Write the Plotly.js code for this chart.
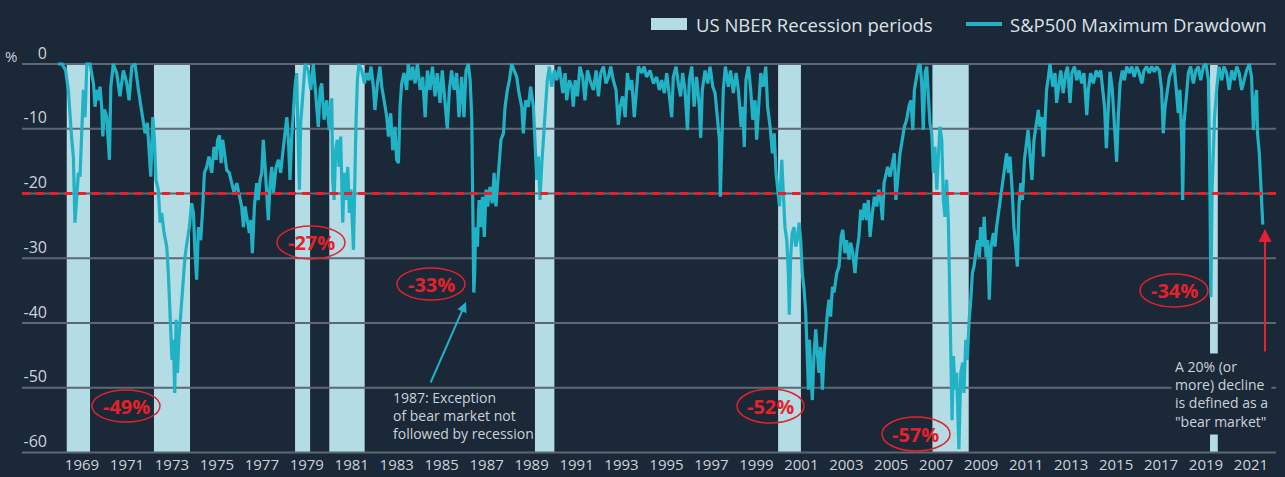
<!DOCTYPE html>
<html>
<head>
<meta charset="utf-8">
<script src="https://cdn.plot.ly/plotly-3.0.1.min.js"></script>
<style>
html,body{margin:0;padding:0;background:#1a2838;}
#chart{width:1285px;height:477px;}
</style>
</head>
<body>
<div id="chart"></div>
<script>
// ---------------- DATA ----------------
// S&P500 maximum drawdown (%), [decimal year, drawdown]
const drawdown1969_1981 = [[1969.62,0],[1969.80,0],[1969.95,-1],[1970.07,-4],[1970.22,-11.7],[1970.29,-14.3],[1970.36,-24.5],[1970.44,-20.5],[1970.51,-16.8],[1970.58,-17.4],[1970.66,-10.6],[1970.73,-4],[1970.80,-8.2],[1970.88,0],[1971.02,0],[1971.17,-3],[1971.24,-6.6],[1971.31,-4],[1971.39,-5.6],[1971.46,-3.5],[1971.53,-6.6],[1971.58,-11.2],[1971.65,-7],[1971.75,-8.2],[1971.87,-14.8],[1971.93,-3.5],[1972.04,0],[1972.19,-1.4],[1972.33,-5],[1972.48,-1],[1972.63,-3],[1972.73,-5.6],[1972.85,-0.4],[1972.99,0],[1973.14,-4],[1973.28,-7.6],[1973.43,-10.7],[1973.53,-9.1],[1973.62,-14.3],[1973.68,-17.4],[1973.77,-8.2],[1973.84,-11.7],[1973.91,-17.9],[1974.01,-19.4],[1974.09,-24.5],[1974.16,-23],[1974.26,-26],[1974.38,-28.2],[1974.45,-32.3],[1974.55,-40],[1974.61,-45.7],[1974.67,-42.6],[1974.73,-50.8],[1974.79,-39.5],[1974.85,-47.7],[1974.91,-42.6],[1974.99,-38.4],[1975.08,-34.4],[1975.18,-29.8],[1975.28,-27.2],[1975.37,-25.2],[1975.47,-21.5],[1975.55,-23],[1975.62,-29.2],[1975.69,-33.3],[1975.77,-25.2],[1975.87,-27.2],[1975.96,-22],[1976.03,-16.8],[1976.13,-15.9],[1976.23,-14.3],[1976.35,-16.8],[1976.45,-12.8],[1976.54,-14.8],[1976.61,-11.7],[1976.69,-11],[1976.76,-15.3],[1976.83,-11.7],[1976.93,-14.8],[1977.01,-16.4],[1977.12,-16.8],[1977.23,-18.4],[1977.33,-19.9],[1977.45,-18.4],[1977.56,-20.5],[1977.66,-22],[1977.74,-25.2],[1977.81,-22],[1977.88,-23.6],[1978.00,-26.1],[1978.07,-24.1],[1978.13,-29.2],[1978.22,-22],[1978.32,-18.4],[1978.39,-21],[1978.47,-17.9],[1978.54,-16.8],[1978.61,-11.7],[1978.69,-15.9],[1978.76,-19.9],[1978.83,-24.1],[1978.90,-19],[1978.98,-15.9],[1979.05,-19.9],[1979.17,-15.9],[1979.27,-14.8],[1979.37,-16.8],[1979.46,-13.8],[1979.56,-10.2],[1979.64,-8.2],[1979.71,-11.7],[1979.78,-17.9],[1979.85,-11.7],[1979.93,-6.6],[1980.00,-3.5],[1980.07,-1.4],[1980.15,-11.7],[1980.19,-19.4],[1980.25,-9.1],[1980.34,-4],[1980.44,0],[1980.58,-1],[1980.69,-4],[1980.80,0],[1980.92,-5],[1981.02,-9.7]];
const drawdown1981_1991 = [[1981.10,-4],[1981.17,-3],[1981.27,-8.6],[1981.39,-5.6],[1981.50,-10.2],[1981.61,-5.3],[1981.65,-17.9],[1981.71,-21],[1981.78,-13.3],[1981.85,-11.7],[1981.93,-15.9],[1982.00,-11.2],[1982.09,-24.5],[1982.16,-16.8],[1982.23,-21],[1982.31,-15.9],[1982.38,-23],[1982.45,-19.4],[1982.56,-28.7],[1982.61,-16.8],[1982.67,-9.1],[1982.73,-2.5],[1982.80,0],[1982.92,-1],[1983.04,-3],[1983.14,-1.4],[1983.24,-2.5],[1983.33,-0.4],[1983.43,-3.5],[1983.50,-7.1],[1983.61,-3],[1983.72,-0.4],[1983.80,-3.5],[1983.90,-5.6],[1984.02,-8.2],[1984.09,-11.2],[1984.19,-7.6],[1984.28,-13.3],[1984.38,-9.7],[1984.45,-14.8],[1984.53,-15.3],[1984.60,-6.6],[1984.67,-3],[1984.77,-1.4],[1984.89,-4],[1984.96,0],[1985.07,-2.5],[1985.15,-0.4],[1985.26,-3],[1985.36,0],[1985.48,-4],[1985.59,-2],[1985.70,-8.2],[1985.80,-1],[1985.91,-4],[1986.02,-0.4],[1986.13,-5],[1986.23,-1.4],[1986.35,-6],[1986.45,-1],[1986.57,-5.6],[1986.67,-10],[1986.76,-4],[1986.86,-1],[1986.97,-4],[1987.08,-1.4],[1987.18,-8.2],[1987.30,-2],[1987.40,-8.2],[1987.49,-1],[1987.59,0],[1987.67,-2.5],[1987.74,-8.2],[1987.78,-27.2],[1987.83,-35.3],[1987.87,-32.3],[1987.91,-25.2],[1987.99,-28.2],[1988.06,-21],[1988.13,-25.2],[1988.21,-20.5],[1988.29,-26.7],[1988.37,-19.4],[1988.44,-22],[1988.54,-19],[1988.64,-21.5],[1988.72,-16.8],[1988.80,-22],[1988.88,-17.9],[1988.95,-15.9],[1989.02,-11.7],[1989.13,-10.7],[1989.20,-6.6],[1989.30,-4],[1989.39,-2.5],[1989.49,0],[1989.59,-1],[1989.71,-2],[1989.81,-4.5],[1989.93,-6.6],[1990.00,-10.7],[1990.10,-5.6],[1990.22,-6.6],[1990.32,-3.5],[1990.44,-6.6],[1990.51,-13.3],[1990.59,-17.9],[1990.66,-14.3],[1990.73,-21],[1990.80,-15.9],[1990.88,-11.7],[1990.95,-6.6],[1991.05,-2.5],[1991.14,-0.4],[1991.24,-3.5],[1991.36,-1],[1991.46,-2.5],[1991.58,-0.4]];
const drawdown1991_2001 = [[1991.73,-4.5],[1991.83,-1.4],[1991.90,-5.6],[1992.02,-2.5],[1992.12,-3.5],[1992.19,-6.6],[1992.27,-2.5],[1992.37,-5],[1992.48,-0.4],[1992.60,-2],[1992.70,-5.6],[1992.81,-1],[1992.92,-2.5],[1993.07,-4],[1993.19,-1],[1993.29,-5],[1993.39,-1.4],[1993.51,-0.4],[1993.62,-3],[1993.73,-2],[1993.83,-0.4],[1993.94,-2.5],[1994.06,-4],[1994.16,-9.4],[1994.24,-6.6],[1994.35,-5],[1994.46,-8.2],[1994.56,-1.4],[1994.65,-4],[1994.75,-2.5],[1994.86,-8.2],[1994.97,-3.5],[1995.04,-0.4],[1995.19,-1.4],[1995.29,-0.4],[1995.40,-2],[1995.55,-1],[1995.70,-3],[1995.84,-2],[1995.96,-4],[1996.06,-2.5],[1996.18,-4.5],[1996.28,-1.4],[1996.40,-5],[1996.50,-8.2],[1996.57,-2],[1996.69,-0.4],[1996.79,-3],[1996.89,-5],[1996.98,-1.4],[1997.08,-4],[1997.19,-10.2],[1997.27,-2.5],[1997.38,-0.4],[1997.48,-6.6],[1997.59,-2],[1997.71,-6.6],[1997.77,-11.4],[1997.84,-4],[1997.96,-1],[1998.08,-3],[1998.18,-0.4],[1998.30,-3.5],[1998.40,-4.5],[1998.50,-8.6],[1998.59,-11.7],[1998.63,-20.5],[1998.69,-11.7],[1998.76,-4],[1998.85,-0.4],[1998.98,-3.5],[1999.08,-1],[1999.20,-4.5],[1999.32,-1.4],[1999.42,-4],[1999.54,-9.7],[1999.61,-6.6],[1999.68,-12.8],[1999.75,-2.5],[1999.86,-0.4],[1999.96,-4],[2000.05,-8.6],[2000.15,-5.6],[2000.22,-11.7],[2000.32,-6.6],[2000.40,-1.4],[2000.51,-3.5],[2000.62,-0.4],[2000.70,-6.6],[2000.81,-9.7],[2000.91,-13.8],[2000.99,-10.7],[2001.07,-16.8],[2001.14,-19.9],[2001.22,-22]];
const drawdown2001_2010 = [[2001.32,-14.8],[2001.39,-21],[2001.46,-25.2],[2001.54,-27.2],[2001.61,-32.3],[2001.65,-38.7],[2001.71,-29.8],[2001.78,-26.1],[2001.86,-25.2],[2001.93,-28.2],[2002.00,-27.2],[2002.08,-24.5],[2002.15,-27.2],[2002.22,-32.3],[2002.30,-34.9],[2002.37,-38.4],[2002.44,-45.1],[2002.49,-50.3],[2002.53,-42.6],[2002.59,-46.8],[2002.66,-51.9],[2002.73,-45.1],[2002.81,-41],[2002.88,-44.6],[2002.95,-47.7],[2003.03,-43.7],[2003.10,-50.3],[2003.17,-45.1],[2003.24,-41.5],[2003.32,-38.4],[2003.39,-36.4],[2003.46,-39],[2003.54,-34.4],[2003.61,-35.3],[2003.73,-32.3],[2003.83,-31.3],[2003.92,-26.7],[2003.99,-25.6],[2004.09,-29.2],[2004.16,-27.2],[2004.27,-30.2],[2004.34,-27.6],[2004.43,-29.2],[2004.53,-32.3],[2004.60,-29.2],[2004.70,-26.7],[2004.78,-22.5],[2004.86,-24.1],[2004.94,-21.5],[2005.04,-24.1],[2005.11,-21],[2005.19,-26.7],[2005.29,-23],[2005.38,-20.5],[2005.48,-22],[2005.57,-19.4],[2005.65,-21],[2005.73,-24.1],[2005.80,-18.4],[2005.89,-16.8],[2005.96,-15.9],[2006.06,-17.4],[2006.16,-15.3],[2006.25,-13.8],[2006.32,-21],[2006.43,-16.8],[2006.50,-13.8],[2006.60,-11.7],[2006.69,-9.7],[2006.79,-8.6],[2006.89,-6.6],[2006.98,-5.6],[2007.06,-10.2],[2007.13,-4],[2007.23,-2],[2007.30,-0.4],[2007.38,0],[2007.45,-3],[2007.52,-10.2],[2007.60,-1.4],[2007.67,-0.4],[2007.74,-4],[2007.81,-9.1],[2007.89,-10.7],[2007.96,-16.8],[2008.03,-12.8],[2008.11,-19.4],[2008.18,-14.3],[2008.25,-9.7],[2008.33,-11.7],[2008.40,-21],[2008.47,-23.6],[2008.54,-17.9],[2008.62,-24.5],[2008.66,-32.3],[2008.72,-42.6],[2008.78,-55],[2008.84,-45.1],[2008.91,-50.3],[2008.98,-47.7],[2009.04,-53],[2009.08,-59.5],[2009.16,-47.7],[2009.25,-46.1],[2009.30,-50.8],[2009.38,-42.6],[2009.45,-45.7],[2009.52,-40],[2009.60,-36.4],[2009.67,-32.3],[2009.74,-31.3],[2009.83,-29.2],[2009.90,-27.2],[2009.98,-29.8],[2010.03,-25.2],[2010.12,-28.2],[2010.19,-23.6],[2010.27,-29.8],[2010.34,-27.2],[2010.41,-36.4],[2010.49,-28.2],[2010.59,-26.1],[2010.66,-28.2],[2010.73,-25.2],[2010.81,-23]];
const drawdown2010_2022 = [[2010.91,-21],[2011.00,-17.9],[2011.07,-15.9],[2011.17,-13.8],[2011.25,-16.8],[2011.32,-14.3],[2011.41,-19.4],[2011.49,-25.2],[2011.57,-28.2],[2011.64,-31.3],[2011.71,-22],[2011.79,-18.4],[2011.86,-21],[2011.95,-14.8],[2012.02,-12.8],[2012.11,-10.2],[2012.19,-13.8],[2012.28,-17.9],[2012.37,-11.7],[2012.46,-9.7],[2012.56,-7.1],[2012.63,-9.7],[2012.71,-8.2],[2012.78,-14.3],[2012.85,-9.1],[2012.92,-4],[2013.00,-2],[2013.07,0],[2013.19,-3.5],[2013.29,-1.4],[2013.36,-6],[2013.45,-3],[2013.54,-1],[2013.65,-4.5],[2013.76,-1.4],[2013.84,-0.4],[2013.95,-6],[2014.03,-1.4],[2014.14,-0.4],[2014.24,-2.5],[2014.34,-1],[2014.46,-3],[2014.56,-1.4],[2014.68,-7.9],[2014.75,-4],[2014.85,-1.4],[2014.97,-3],[2015.09,-1],[2015.19,-2],[2015.29,-1],[2015.38,-3.5],[2015.46,-6.6],[2015.54,-13],[2015.63,-6.6],[2015.70,-1.2],[2015.80,-4],[2015.89,-9.7],[2015.99,-15.1],[2016.06,-8.2],[2016.14,-3],[2016.24,-1],[2016.33,-2.5],[2016.43,-0.4],[2016.55,-1.4],[2016.65,-0.4],[2016.76,-2],[2016.87,-0.4],[2016.98,-1.4],[2017.09,-3],[2017.19,-1],[2017.30,-0.4],[2017.42,-1.4],[2017.52,-0.4],[2017.64,-1.2],[2017.74,-0.4],[2017.86,-1],[2017.96,-4],[2018.03,-10.7],[2018.11,-6.6],[2018.21,-4],[2018.30,-2],[2018.40,-1],[2018.50,0],[2018.59,-3.5],[2018.69,-7.6],[2018.76,-4],[2018.84,-11.7],[2018.88,-21],[2018.94,-9.1],[2019.03,-5.6],[2019.13,-1.4],[2019.23,-0.4],[2019.35,-3],[2019.46,-1],[2019.57,-0.4],[2019.67,-2.5],[2019.79,-0.4],[2019.90,0],[2020.01,-2.5],[2020.06,-14.3],[2020.09,-32.3],[2020.12,-36],[2020.17,-19.4],[2020.22,-13.3],[2020.28,-8.2],[2020.37,-4],[2020.47,-0.4],[2020.59,-2.5],[2020.69,-0.4],[2020.81,-1.4],[2020.92,-4],[2021.03,-1],[2021.14,-2.5],[2021.25,-0.4],[2021.36,-1.4],[2021.47,-4],[2021.57,-2.5],[2021.68,-1],[2021.80,0],[2021.90,-2],[2021.98,-10.2],[2022.05,-5.6],[2022.12,-4],[2022.16,-10.7],[2022.24,-13.8],[2022.30,-17.9],[2022.34,-19.9],[2022.39,-24.8]];

// US NBER recession periods (decimal years, as drawn)
const recStart = [1970.00, 1973.82, 1980.00, 1981.50, 1990.51, 2001.16, 2007.92, 2020.08];
const recEnd   = [1971.02, 1975.40, 1980.66, 1983.05, 1991.36, 2002.16, 2009.51, 2020.42];

// axis labels
const labelYears = [1969,1971,1973,1975,1977,1979,1981,1983,1985,1987,1989,1991,1993,1995,1997,1999,2001,2003,2005,2007,2009,2011,2013,2015,2017,2019,2021];
const yTicks = [0,-10,-20,-30,-40,-50,-60];
const bearThreshold = -20;
const troughLabels = ['-49%','-27%','-33%','-52%','-57%','-34%'];

// ---------------- LAYOUT HELPERS ----------------
const W = 1285, H = 477;
const M = {l:22, r:9, t:62, b:23};
const PW = W - M.l - M.r, PH = H - M.t - M.b;
const XR = [1968.04, 2022.97];          // data (time) axis range
const LR = [1966.331, 2022.114];        // scale on which the year labels are spaced
const YR = [-60.23, 0.31];
const px2paperX = px => (px - M.l) / PW;
const py2paperY = py => 1 - (py - M.t) / PH;
const px2x = px => XR[0] + (px - M.l) / PW * (XR[1] - XR[0]);
const py2y = py => YR[1] - (py - M.t) / PH * (YR[1] - YR[0]);

const FONT = 'Open Sans, Noto Sans, sans-serif';
const BG = '#1a2838';
const TEAL = '#22b2c6';
const RECCOL = '#b3dce5';
const RED = '#e4222b';
const GRID = '#5d6874';
const TXT = '#cdd2d8';

const allDD = [].concat(drawdown1969_1981, drawdown1981_1991, drawdown1991_2001, drawdown2001_2010, drawdown2010_2022);

// ---------------- TRACES ----------------
const yBottom = Math.min.apply(null, yTicks);
const recTrace = {
  type: 'bar',
  x: recStart.map((s, i) => (s + recEnd[i]) / 2),
  width: recStart.map((s, i) => recEnd[i] - s),
  y: recStart.map(() => yBottom),
  base: 0,
  marker: {color: RECCOL, line: {width: 0}},
  hoverinfo: 'skip', showlegend: false, name: 'US NBER Recession periods'
};
const gridTrace = {
  type: 'scatter', mode: 'lines',
  x: [].concat(...yTicks.map(() => [XR[0], XR[1], null])),
  y: [].concat(...yTicks.map(t => [t, t, null])),
  line: {color: GRID, width: 2},
  hoverinfo: 'skip', showlegend: false
};
const ddTrace = {
  type: 'scatter', mode: 'lines',
  x: allDD.map(p => p[0]), y: allDD.map(p => p[1]),
  line: {color: TEAL, width: 3.2},
  name: 'S&P500 Maximum Drawdown', showlegend: false, hoverinfo: 'skip'
};

// ---------------- SHAPES / ANNOTATIONS ----------------
const ellipseBoxes = [[92,160,390,422],[277,345,226,259],[397,465,268,300],[737,804,389,423],[882,950,417,451],[1140,1208,274,307]];

const shapes = [];
shapes.push({type:'line', xref:'paper', yref:'y', x0:0, x1:1, y0:bearThreshold, y1:bearThreshold,
  line:{color:RED, width:3, dash:'8px,6px'}, layer:'above'});
ellipseBoxes.forEach(b => shapes.push({type:'circle', xref:'paper', yref:'paper',
  x0:px2paperX(b[0]), x1:px2paperX(b[1]), y0:py2paperY(b[3]), y1:py2paperY(b[2]),
  line:{color:RED, width:1.5}, layer:'above'}));
// legend swatches
shapes.push({type:'rect', xref:'paper', yref:'paper', x0:px2paperX(651), x1:px2paperX(687), y0:py2paperY(30), y1:py2paperY(18),
  fillcolor:RECCOL, line:{width:0}});
shapes.push({type:'line', xref:'paper', yref:'paper', x0:px2paperX(966), x1:px2paperX(1002), y0:py2paperY(24), y1:py2paperY(24),
  line:{color:TEAL, width:4}});

const annotations = [];
troughLabels.forEach((t, i) => {
  const b = ellipseBoxes[i];
  annotations.push({xref:'paper', yref:'paper', x:px2paperX((b[0]+b[1])/2), y:py2paperY((b[2]+b[3])/2),
    text:'<b>' + t + '</b>', showarrow:false, xanchor:'center', yanchor:'middle',
    font:{family:FONT, size:20, color:RED}});
});
annotations.push({xref:'paper', yref:'paper', x:px2paperX(11), y:py2paperY(56), text:'%', showarrow:false,
  xanchor:'center', yanchor:'middle', font:{family:FONT, size:15, color:TXT}});
annotations.push({xref:'x', yref:'y', x:px2x(389), y:py2y(384), xanchor:'left', yanchor:'top', align:'left',
  text:'1987: Exception<br>of bear market not<br>followed by recession', showarrow:false, borderpad:3,
  font:{family:FONT, size:14, color:TXT}});
annotations.push({xref:'x', yref:'y', x:px2x(1171), y:py2y(353), xanchor:'left', yanchor:'top', align:'left',
  text:'A 20% (or<br>more) decline<br>is defined as a<br>"bear market"', showarrow:false, borderpad:3,
  bgcolor:BG, font:{family:FONT, size:14, color:TXT}});
annotations.push({xref:'x', yref:'y', x:px2x(466), y:py2y(302), ax:430-466, ay:384-302, axref:'pixel', ayref:'pixel',
  text:'', showarrow:true, arrowhead:2, arrowsize:1, arrowwidth:2, arrowcolor:TEAL});
annotations.push({xref:'x', yref:'y', x:px2x(1265), y:py2y(229), ax:0, ay:353-229,
  text:'', showarrow:true, arrowhead:2, arrowsize:1.3, arrowwidth:2, arrowcolor:RED});
// legend texts
annotations.push({xref:'paper', yref:'paper', x:px2paperX(694), y:py2paperY(24), xanchor:'left', yanchor:'middle',
  text:'US NBER Recession periods', showarrow:false, font:{family:FONT, size:18.5, color:'#dde1e6'}});
annotations.push({xref:'paper', yref:'paper', x:px2paperX(1008), y:py2paperY(24), xanchor:'left', yanchor:'middle',
  text:'S&amp;P500 Maximum Drawdown', showarrow:false, font:{family:FONT, size:18.5, color:'#dde1e6'}});

const tickvals = labelYears.map(v => XR[0] + (v - LR[0]) * (XR[1] - XR[0]) / (LR[1] - LR[0]));

const layout = {
  width: W, height: H,
  margin: M,
  paper_bgcolor: BG, plot_bgcolor: BG,
  showlegend: false,
  barmode: 'overlay',
  xaxis: {type:'linear', range:XR, tickvals:tickvals, ticktext:labelYears.map(String),
    showgrid:false, zeroline:false, showline:false, ticks:'', fixedrange:true, automargin:false,
    tickfont:{family:FONT, size:15, color:TXT}},
  yaxis: {range:YR, tickvals:yTicks, ticktext:yTicks.map(String),
    showgrid:false, zeroline:false, showline:false, ticks:'', fixedrange:true, automargin:false,
    ticklabelstandoff:-26, ticklabelshift:-11,
    tickfont:{family:FONT, size:16, color:TXT}},
  shapes: shapes,
  annotations: annotations
};

Plotly.newPlot('chart', [recTrace, gridTrace, ddTrace], layout, {displayModeBar:false, staticPlot:true});
</script>
</body>
</html>
